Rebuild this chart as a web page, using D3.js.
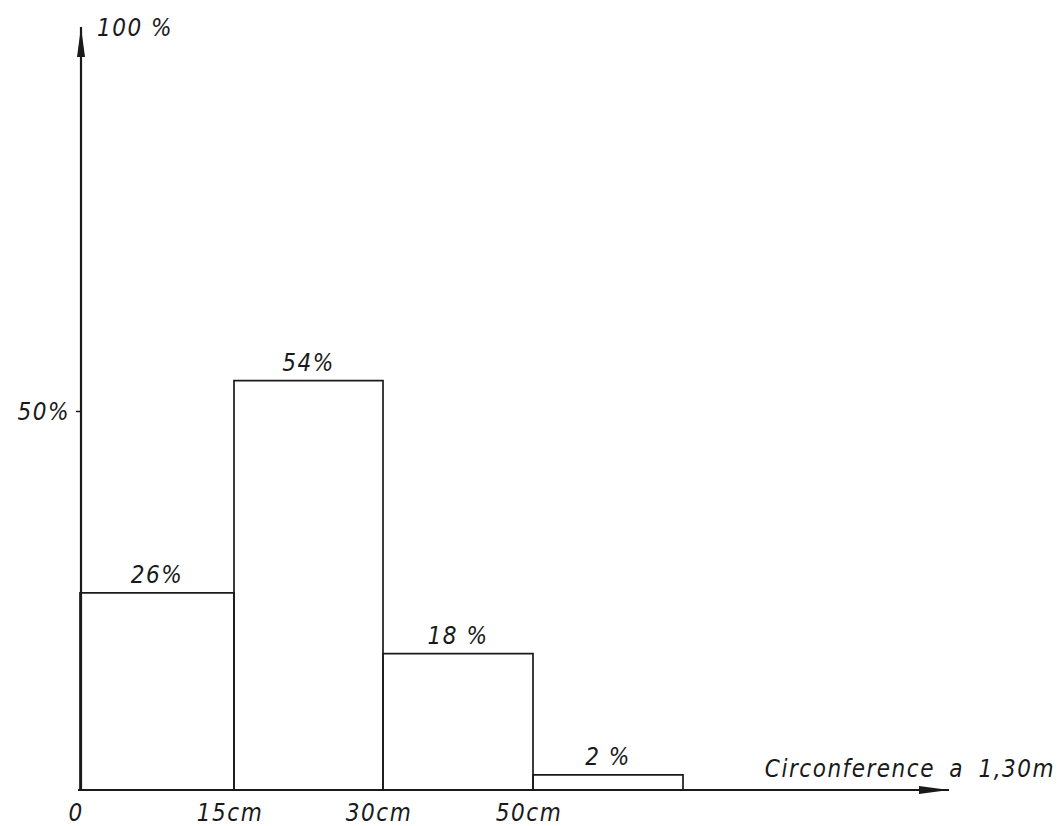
<!DOCTYPE html>
<meta charset="utf-8">
<style>
  html, body { margin: 0; background: #fff; }
  svg { display: block; }
  text {
    font-family: "DejaVu Sans", sans-serif;
    font-style: oblique;
    font-stretch: condensed;
    fill: #1a1a1a;
    letter-spacing: 1.5px;
  }
  .bar { fill: none; stroke: #1a1a1a; stroke-width: 1.7; }
  .axisline { stroke: #1a1a1a; stroke-width: 2.2; }
</style>
<body>
<script src="https://cdn.jsdelivr.net/npm/d3@7"></script>
<script>
// bins of circumference at 1.30 m, share of stems in %
var binEdges = ["0", "15cm", "30cm", "50cm", ""];
var shares = [26, 54, 18, 2];
var shareLabels = ["26%", "54%", "18 %", "2 %"];
var yTicks = [50];
var yTickLabels = ["50%"];

var W = 1060, H = 826;
var svg = d3.select("body").append("svg").attr("width", W).attr("height", H);

// the drawing's bins are not to scale, so edges are placed by index
var x = d3.scaleLinear().domain([0, 1, 2, 3, 4]).range([80, 234, 383, 533, 683]);
var y = d3.scaleLinear().domain([0, 100]).range([790, 32]);

svg.append("defs").append("marker")
  .attr("id", "arrow")
  .attr("viewBox", "0 0 30 10")
  .attr("refX", 30).attr("refY", 5)
  .attr("markerWidth", 30).attr("markerHeight", 10)
  .attr("markerUnits", "userSpaceOnUse")
  .attr("orient", "auto")
  .append("path").attr("d", "M0,1 L30,5 L0,9 Z").attr("fill", "#1a1a1a");

// bars
svg.append("g").selectAll("path")
  .data(shares)
  .enter().append("path")
  .attr("class", "bar")
  .attr("d", function(d, i) {
    return "M" + x(i) + "," + y(0) + "V" + y(d) + "H" + x(i + 1) + "V" + y(0);
  });

// value labels above bars
svg.append("g").selectAll("text")
  .data(shares)
  .enter().append("text")
  .attr("x", function(d, i) { return (x(i) + x(i + 1)) / 2; })
  .attr("y", function(d) { return y(d) - 10; })
  .attr("text-anchor", "middle")
  .attr("font-size", 24)
  .text(function(d, i) { return shareLabels[i]; });

// axes with arrows
svg.append("line").attr("class", "axisline")
  .attr("x1", 78).attr("y1", y(0)).attr("x2", 949).attr("y2", y(0))
  .attr("marker-end", "url(#arrow)");
svg.append("line").attr("class", "axisline")
  .attr("x1", 81).attr("y1", y(0) + 1).attr("x2", 81).attr("y2", 27)
  .attr("marker-end", "url(#arrow)");

// y tick
var yAxis = d3.axisLeft(y).tickValues(yTicks).tickSize(5).tickPadding(6)
  .tickFormat(function(d, i) { return yTickLabels[i]; });
var ya = svg.append("g").attr("transform", "translate(81,0)").call(yAxis);
ya.select(".domain").remove();
ya.selectAll("line").attr("stroke", "#1a1a1a").attr("stroke-width", 1.5);
ya.selectAll("text").attr("font-size", 24).attr("font-family", null).attr("dy", "0.35em");

// x tick labels at bin edges
svg.append("g").selectAll("text")
  .data(binEdges)
  .enter().append("text")
  .attr("x", function(d, i) { return x(i) - 4; })
  .attr("y", 821)
  .attr("text-anchor", "middle")
  .attr("font-size", 24)
  .text(function(d) { return d; });

// axis titles
svg.append("text").attr("x", 97).attr("y", 36).attr("font-size", 24).text("100 %");
svg.append("text").attr("x", 1055).attr("y", 777).attr("text-anchor", "end")
  .attr("font-size", 24).attr("letter-spacing", 2).attr("word-spacing", 6)
  .text("Circonference a 1,30m");
</script>
</body>
